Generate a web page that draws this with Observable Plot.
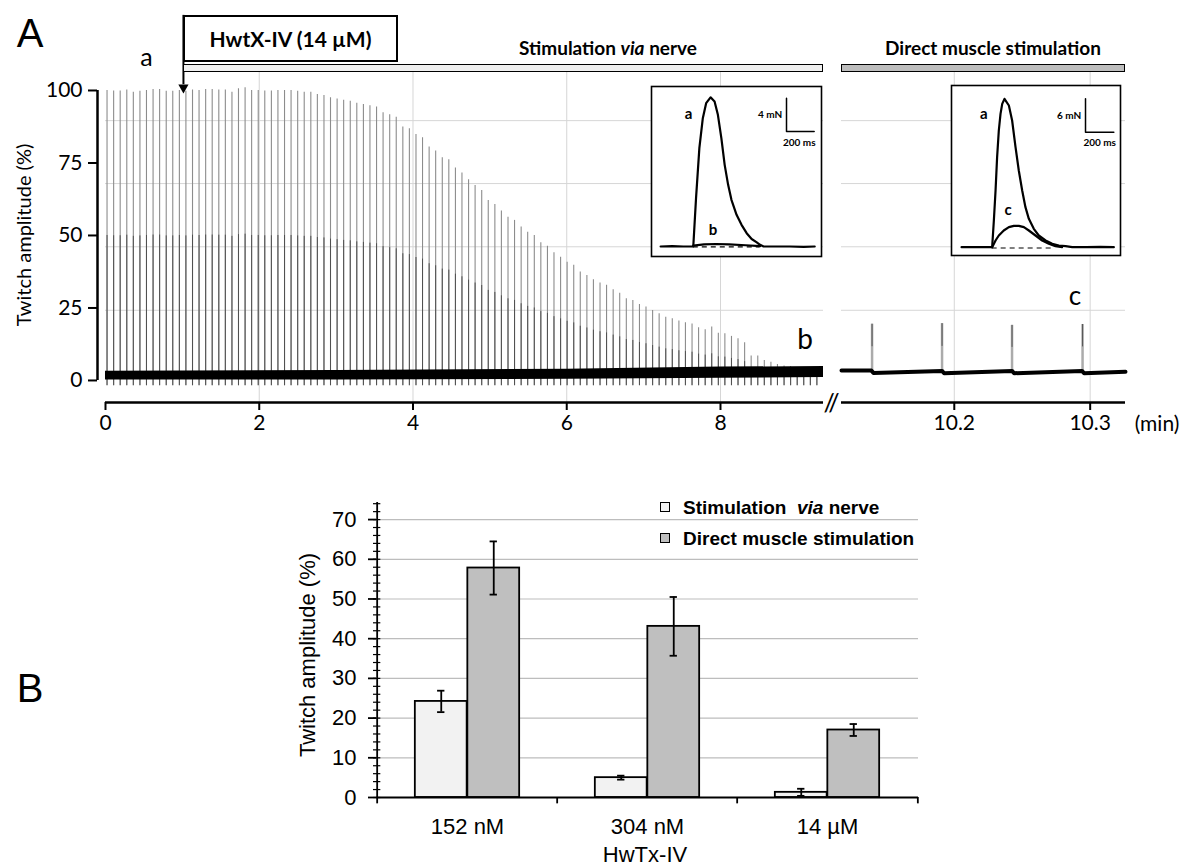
<!DOCTYPE html>
<html><head><meta charset="utf-8">
<script src="https://cdn.jsdelivr.net/npm/d3@7"></script>
<script src="https://cdn.jsdelivr.net/npm/@observablehq/plot@0.6"></script>
<style>
body{margin:0;background:#fff;}
#root{position:relative;width:1186px;height:868px;overflow:hidden;background:#fff;}
#root svg{position:absolute;}
.t{position:absolute;white-space:nowrap;transform:translate(-50%,-50%);line-height:1;color:#000;}
.lato{font-family:Lato,"Open Sans",sans-serif;}
.arial{font-family:"Liberation Sans",Arial,sans-serif;}
</style></head><body><div id="root"></div><script>
// ---------------- Panel A: twitch recording (stimulation via nerve) ----------------
const nerveTimes = [0.020,0.106,0.191,0.277,0.362,0.448,0.533,0.619,0.704,0.790,0.875,0.961,1.046,1.132,1.217,1.303,1.388,1.474,1.559,1.645,1.730,1.816,1.901,1.987,2.072,2.158,2.243,2.329,2.414,2.500,2.585,2.671,2.756,2.842,2.927,3.013,3.098,3.184,3.269,3.355,3.440,3.526,3.611,3.697,3.782,3.868,3.953,4.039,4.124,4.210,4.295,4.381,4.466,4.552,4.637,4.723,4.808,4.894,4.979,5.065,5.150,5.236,5.321,5.407,5.492,5.578,5.663,5.749,5.834,5.920,6.005,6.091,6.176,6.262,6.347,6.433,6.518,6.604,6.689,6.775,6.860,6.946,7.031,7.117,7.202,7.288,7.373,7.459,7.544,7.630,7.715,7.801,7.886,7.972,8.057,8.143,8.228,8.314,8.399,8.485,8.570,8.656,8.741,8.827,8.912,8.998,9.083,9.169,9.254];
const nerveAmps = [100,99.8,99.8,100.2,99.4,99.7,100,100.3,100.3,99.7,99.7,100,99.7,100.2,100,100.3,100.3,100.2,100.2,99.4,100.6,100.9,100,100,99.8,99.8,100,100,100,99.7,99.4,99.4,98.6,98.3,97.5,97.1,96.6,96.3,95.6,95.2,94.7,94.3,92.3,91.6,90.8,87.4,86.8,84.8,83.7,80.5,79.1,76.8,76.1,73.3,
71.5,69.2,67.2,65.5,62.1,60.7,58.4,56.3,55.2,52.9,51.1,50,47.5,46.3,44,42.5,40.8,39.7,37.4,36.2,34.7,33.6,32.8,31.3,30.1,28.2,27.6,26.2,25.3,24.1,23,21.8,21.3,20.5,19.9,19.5,18.2,17.5,18.4,16.3,16.1,15.2,14.4,13,8.4,8.4,6.9,6.3,
5.5,5,4.8,4.5,4.5,4.2,4.0];
const baseLeftT  = [0, 3, 6, 8, 9.34];
const baseLeftLo = [0.2, 0.2, 0.4, 0.8, 1.0];
const baseLeftHi = [3.2, 3.4, 3.9, 4.6, 4.8];
const drugTime = 1.014;            // HwTx-IV application (min)
// direct muscle stimulation (right part)
const directTimes = [10.1395, 10.1910, 10.2425, 10.2944];
const directAmps  = [19.4, 19.6, 19.0, 19.3];
const baseRightT = [10.117,10.139,10.1405,10.191,10.1925,10.2425,10.244,10.294,10.2955,10.326];
const baseRightV = [3.4,3.4,2.6,3.3,2.5,3.3,2.5,3.3,2.5,3.0];
// axes / grids
const yTicksA = [0, 25, 50, 75, 100];
const xTicksLeft = [0, 2, 4, 6, 8];
const xTicksRight = [10.2, 10.3];
const gridYA = [24.2, 46.1, 67.9, 89.6];
const gridXLeft = [2, 4, 6, 8];

// Inset 1 (nerve): traces a and b, time in ms, force in mN
const in1T_a = [66,150,230,302,322,346,371,395,427,456,480,505,529,554,578,615,651,688,724,761,785,810,900,1000,1100,1180];
const in1V_a = [0,0.05,0,0,5.8,11.8,15.4,17.2,17.9,17.4,15.8,13.0,9.8,7.4,5.6,3.8,2.6,1.6,0.9,0.5,0.2,0,0,0,-0.05,0];
const in1T_b = [302,380,468,560,680,785];
const in1V_b = [0.1,0.25,0.3,0.25,0.15,0.05];
// Inset 2 (direct): traces a and c
const in2T_a = [71,287,299,311,322,334,346,358,374,405,428,452,475,499,522,546,581,616,664,711,758,805,852,950,1050,1146];
const in2V_a = [0,0,4.8,10.2,16.2,21,24,25.8,26.7,25.5,22.8,18,13.8,10.2,7.2,5.1,3.3,2.1,1.2,0.6,0.3,0.18,0,0,0.05,0];
const in2T_c = [287,311,334,369,405,440,475,511,546,593,640,687,734,781];
const in2V_c = [0,1.2,2.1,3.0,3.6,3.84,3.84,3.6,3.0,2.1,1.2,0.6,0.18,0];

// ---------------- Panel B: bar chart ----------------
const concLabels = ["152 nM", "304 nM", "14 µM"];
const nerveMean = [24.2, 5.0, 1.3];
const nerveErr  = [2.7, 0.5, 0.9];
const directMean = [57.8, 43.1, 17.0];
const directErr  = [6.7, 7.4, 1.5];
const yTicksB = [0, 10, 20, 30, 40, 50, 60, 70];
const minorB = d3.range(0, 75, 2);

const root = document.getElementById("root");
function place(svg, left, top, bg) {
  svg.style.left = left + "px"; svg.style.top = top + "px";
  svg.style.background = bg || "transparent"; svg.style.overflow = "visible";
  svg.style.maxWidth = "none";
  root.appendChild(svg);
}
function label(html, x, y, cls, css) {
  const d = document.createElement("div");
  d.className = "t " + cls; d.innerHTML = html;
  d.style.left = x + "px"; d.style.top = y + "px";
  Object.assign(d.style, css || {});
  root.appendChild(d);
  return d;
}

const trace = nerveTimes.map((t, i) => ({t, amp: nerveAmps[i]}));
const baseLeft = baseLeftT.map((t, i) => ({t, lo: baseLeftLo[i], hi: baseLeftHi[i]}));
const direct = directTimes.map((t, i) => ({t, amp: directAmps[i]}));
const baseRight = baseRightT.map((t, i) => ({t, v: baseRightV[i]}));
const darkShare = 0.5;
const styleA = {fontFamily: "Lato, sans-serif", color: "#000", background: "transparent"};

const leftPlot = Plot.plot({
  width: 840, height: 440, marginLeft: 97, marginRight: 17, marginTop: 72, marginBottom: 38,
  x: {domain: [-0.104, 9.34], axis: null}, y: {domain: [-7.6, 106.2], axis: null},
  style: styleA,
  marks: [
    Plot.ruleY(gridYA, {x1: 0, x2: 9.34, stroke: "#d6d6d6"}),
    Plot.ruleX(gridXLeft, {stroke: "#d6d6d6"}),
    Plot.ruleX(trace, {x: "t", y1: -1.8, y2: "amp", stroke: "#8c8c8c", strokeWidth: 1.1}),
    Plot.ruleX(trace, {x: "t", y1: -1.8, y2: d => d.amp * darkShare, stroke: "#505050", strokeWidth: 1}),
    Plot.areaY(baseLeft, {x: "t", y1: "lo", y2: "hi", fill: "#000"}),
    Plot.ruleX([-0.104], {y1: 0, y2: 100, strokeWidth: 2.5}),
    Plot.axisY({ticks: yTicksA, tickSize: 9, tickPadding: 6, fontSize: 21, strokeWidth: 2, label: null}),
    Plot.ruleY([-7.6], {x1: 0, x2: 9.34, strokeWidth: 2.5}),
    Plot.axisX({ticks: xTicksLeft, tickSize: 8, tickPadding: 5, fontSize: 21, strokeWidth: 2, label: null}),
    Plot.ruleX([drugTime], {y1: 102, y2: 125.9, strokeWidth: 2}),
    Plot.dot([drugTime], {x: d => d, y: 101, symbol: "triangle", r: 3.8, rotate: 180, fill: "#000", stroke: "none"})
  ]
});
place(leftPlot, 0, 0);

const rightPlot = Plot.plot({
  width: 356, height: 440, marginLeft: 11, marginRight: 61, marginTop: 72, marginBottom: 38,
  x: {domain: [10.117, 10.326], axis: null}, y: {domain: [-7.6, 106.2], axis: null},
  style: styleA,
  marks: [
    Plot.ruleY(gridYA, {stroke: "#d6d6d6"}),
    Plot.ruleX(xTicksRight, {stroke: "#d6d6d6"}),
    Plot.ruleX(direct, {x: "t", y1: 2.5, y2: "amp", stroke: "#ababab", strokeWidth: 2.5}),
    Plot.ruleX(direct, {x: "t", y1: d => d.amp * 0.6, y2: "amp", stroke: "#555", strokeWidth: 1}),
    Plot.line(baseRight, {x: "t", y: "v", stroke: "#000", strokeWidth: 4}),
    Plot.ruleY([-7.6], {strokeWidth: 2.5}),
    Plot.axisX({ticks: xTicksRight, tickFormat: d3.format(".1f"), tickSize: 8, tickPadding: 5, fontSize: 21, strokeWidth: 2, label: null})
  ]
});
place(rightPlot, 830, 0);

// insets
function inset(tA, vA, tB, vB, dash, xd, yd, bar, txt, w, h) {
  const A = tA.map((t, i) => ({t, v: vA[i]}));
  const B = tB.map((t, i) => ({t, v: vB[i]}));
  const mid = txt.filter(d => d.anchor === "middle");
  const end = txt.filter(d => d.anchor === "end");
  return Plot.plot({
    width: w, height: h, margin: 0,
    x: {domain: xd, axis: null}, y: {domain: yd, axis: null},
    style: {fontFamily: "Lato, sans-serif", color: "#000"},
    marks: [
      Plot.ruleY([dash.v], {x1: dash.t0, x2: dash.t1, strokeDasharray: "5,4", strokeWidth: 1.2}),
      Plot.line(B, {x: "t", y: "v", strokeWidth: 2.2}),
      Plot.line(A, {x: "t", y: "v", strokeWidth: 2.2}),
      Plot.line([[bar.t0, bar.v1], [bar.t0, bar.v0], [bar.t1, bar.v0]], {strokeWidth: 1.5}),
      Plot.text(mid, {x: "t", y: "v", text: "s", fontSize: d => d.size, fontWeight: "bold", textAnchor: "middle"}),
      Plot.text(end, {x: "t", y: "v", text: "s", fontSize: d => d.size, fontWeight: "bold", textAnchor: "end"}),
      Plot.frame({strokeWidth: 1.6})
    ]
  });
}
const in1 = inset(in1T_a, in1V_a, in1T_b, in1V_b, {t0: 302, t1: 785, v: -0.05},
  [0, 1229], [-1.2, 19.2], {t0: 976, t1: 1176, v0: 13.8, v1: 17.8},
  [{t: 268, v: 15.9, s: "a", size: 15, anchor: "middle"}, {t: 444, v: 2.0, s: "b", size: 15, anchor: "middle"},
   {t: 945, v: 15.8, s: "4 mN", size: 10, anchor: "end"}, {t: 1068, v: 12.4, s: "200 ms", size: 10, anchor: "middle"}], 170, 170);
place(in1, 651, 86, "#fff");
const in2 = inset(in2T_a, in2V_a, in2T_c, in2V_c, {t0: 287, t1: 711, v: -0.15},
  [0, 1193], [-1.5, 29.1], {t0: 946, t1: 1146, v0: 20.7, v1: 26.7},
  [{t: 228, v: 24.0, s: "a", size: 15, anchor: "middle"}, {t: 400, v: 6.6, s: "c", size: 15, anchor: "middle"},
   {t: 915, v: 23.7, s: "6 mN", size: 10, anchor: "end"}, {t: 1046, v: 18.7, s: "200 ms", size: 10, anchor: "middle"}], 169, 170);
place(in2, 951, 85, "#fff");

// ---------------- Panel B plot ----------------
const nerveData = concLabels.map((c, i) => ({conc: c, v: nerveMean[i], e: nerveErr[i]}));
const directData = concLabels.map((c, i) => ({conc: c, v: directMean[i], e: directErr[i]}));
const bw = 180.67, barW = 52.5, gap = (bw - 2 * barW) / 2;
const bPlot = Plot.plot({
  width: 1186, height: 398, marginLeft: 376, marginRight: 268, marginTop: 32, marginBottom: 71,
  x: {domain: concLabels, padding: 0, axis: null},
  y: {domain: [0, 74.3], axis: null},
  style: {fontFamily: "'Liberation Sans', Arial, sans-serif", color: "#000", background: "transparent"},
  marks: [
    Plot.ruleY(yTicksB.slice(1), {stroke: "#bdbdbd", strokeWidth: 1.2}),
    Plot.barY(nerveData, {x: "conc", y: "v", fill: "#f2f2f2", stroke: "#000", strokeWidth: 1.8, insetLeft: gap, insetRight: bw - gap - barW}),
    Plot.barY(directData, {x: "conc", y: "v", fill: "#bfbfbf", stroke: "#000", strokeWidth: 1.8, insetLeft: gap + barW, insetRight: gap}),
    Plot.ruleX(nerveData, {x: "conc", y1: d => d.v - d.e, y2: d => d.v + d.e, dx: -barW / 2, strokeWidth: 1.8}),
    Plot.ruleX(directData, {x: "conc", y1: d => d.v - d.e, y2: d => d.v + d.e, dx: barW / 2, strokeWidth: 1.8}),
    Plot.tickY(nerveData, {x: "conc", y: d => d.v - d.e, insetLeft: gap + barW / 2 - 4, insetRight: bw - gap - barW / 2 - 4, strokeWidth: 1.8}),
    Plot.tickY(nerveData, {x: "conc", y: d => d.v + d.e, insetLeft: gap + barW / 2 - 4, insetRight: bw - gap - barW / 2 - 4, strokeWidth: 1.8}),
    Plot.tickY(directData, {x: "conc", y: d => d.v - d.e, insetLeft: gap + 1.5 * barW - 4, insetRight: gap + barW / 2 - 4, strokeWidth: 1.8}),
    Plot.tickY(directData, {x: "conc", y: d => d.v + d.e, insetLeft: gap + 1.5 * barW - 4, insetRight: gap + barW / 2 - 4, strokeWidth: 1.8}),
    Plot.ruleY([0], {strokeWidth: 1.8}),
    Plot.ruleX([concLabels[0]], {dx: -bw / 2, y1: 0, y2: 74.3, strokeWidth: 1.8}),
    Plot.tickY(minorB, {y: d => d, x: () => concLabels[0], insetLeft: -4, insetRight: bw - 4, strokeWidth: 1.2}),
    Plot.ruleX(concLabels, {dx: -bw / 2, y1: 0, y2: -1.6, strokeWidth: 1.8}),
    Plot.ruleX([concLabels[2]], {dx: bw / 2, y1: 0, y2: -1.6, strokeWidth: 1.8}),
    Plot.axisY({ticks: yTicksB, tickSize: 8, tickPadding: 12, fontSize: 22, strokeWidth: 1.8, label: null}),
    Plot.axisX({tickSize: 0, tickPadding: 21, fontSize: 22, label: null})
  ]
});
place(bPlot, 0, 470);

// ---------------- annotations ----------------
label("A", 30, 33, "arial", {fontSize: "40px"});
label("B", 30, 688, "arial", {fontSize: "40px"});
label("a", 146.5, 56, "lato", {fontSize: "25px"});
label("b", 805, 338, "lato", {fontSize: "28px"});
label("c", 1075, 295, "lato", {fontSize: "26px"});
label("(min)", 1157, 422, "lato", {fontSize: "21px"});
label("//", 831, 402, "lato", {fontSize: "25px", letterSpacing: "-1px"});
label("Twitch amplitude (%)", 23, 235, "lato", {fontSize: "20px", transform: "translate(-50%,-50%) rotate(-90deg)"});
label("<b>Stimulation <i>via</i> nerve</b>", 608, 47, "lato", {fontSize: "19px"});
label("<b>Direct muscle stimulation</b>", 993, 47, "lato", {fontSize: "19px"});
// drug box and protocol bars
const box = document.createElement("div");
Object.assign(box.style, {position: "absolute", left: "183px", top: "15px", width: "215px", height: "47px",
  boxSizing: "border-box", border: "2px solid #000", background: "#fff", display: "flex", alignItems: "center",
  justifyContent: "center", fontFamily: "Lato, sans-serif", fontWeight: "bold", fontSize: "21px"});
box.textContent = "HwtX-IV (14 µM)";
root.appendChild(box);
function hbar(l, r, fill) {
  const d = document.createElement("div");
  Object.assign(d.style, {position: "absolute", left: l + "px", top: "64px", width: (r - l) + "px", height: "8px",
    boxSizing: "border-box", border: "1.5px solid #000", background: fill});
  root.appendChild(d);
}
hbar(183, 823, "#efefef");
hbar(841, 1125, "#bdbdbd");
// panel B texts
label("Twitch amplitude (%)", 308, 655, "arial", {fontSize: "22px", transform: "translate(-50%,-50%) rotate(-90deg)"});
label("HwTx-IV", 645, 855, "arial", {fontSize: "22px"});
function legItem(y, fill, html) {
  const s = document.createElement("div");
  Object.assign(s.style, {position: "absolute", left: "660px", top: (y - 5) + "px", width: "10px", height: "10px",
    boxSizing: "border-box", border: "1.5px solid #000", background: fill});
  root.appendChild(s);
  label(html, 683, y, "arial", {fontSize: "19px", fontWeight: "bold", transform: "translate(0,-50%)"});
}
legItem(507, "#f2f2f2", "Stimulation&nbsp; <i>via</i> nerve");
legItem(538, "#bfbfbf", "Direct muscle stimulation");
</script></body></html>
